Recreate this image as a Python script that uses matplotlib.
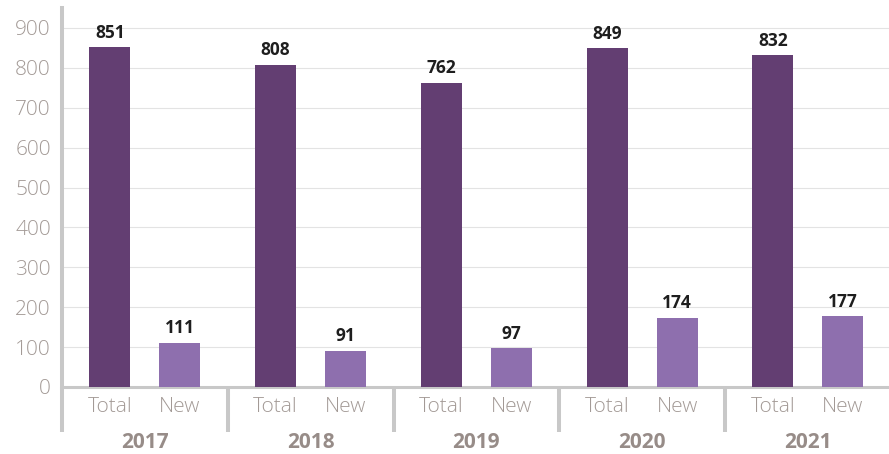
import numpy as np
import matplotlib.pyplot as plt
from matplotlib.transforms import blended_transform_factory

# dados
anos = ['2017', '2018', '2019', '2020', '2021']
total = [851, 808, 762, 849, 832]
novos = [111, 91, 97, 174, 177]
sub_rotulos = ['Total', 'New']

cor_total = '#633e72'
cor_novo = '#8e6fae'
cor_texto = '#a39a96'
cor_ano = '#978c88'
cor_eixo = '#c8c8c8'

plt.rcParams['font.family'] = ['Open Sans', 'DejaVu Sans']

fig = plt.figure(figsize=(8.89, 4.54), dpi=100)
ax = fig.add_axes([62 / 889, 67 / 454, 1 - 62 / 889, (446 - 67) / 454])

x = np.arange(len(anos))
desloc = 0.211
largura = 0.247

b1 = ax.bar(x - desloc, total, width=largura, color=cor_total, zorder=3)
b2 = ax.bar(x + desloc, novos, width=largura, color=cor_novo, zorder=3)

for barras in (b1, b2):
    for b in barras:
        ax.annotate(f'{int(b.get_height())}',
                    (b.get_x() + b.get_width() / 2, b.get_height()),
                    xytext=(0, 4), textcoords='offset points',
                    ha='center', va='bottom', fontsize=12.5,
                    fontweight='bold', color='#1e1e1e')

ax.set_ylim(0, 950)
ax.set_xlim(-0.5, (889 - 62) / 165.75 - 0.5)
ax.set_yticks(range(0, 901, 100))
ax.tick_params(axis='y', length=0, pad=8, labelsize=15, labelcolor=cor_texto)
for t in ax.get_yticklabels():
    t.set_fontweight('light')
ax.grid(axis='y', color='#e3e3e3', linewidth=0.8, zorder=0)

pos = np.concatenate([x - desloc, x + desloc])
lab = [sub_rotulos[0]] * len(x) + [sub_rotulos[1]] * len(x)
ax.set_xticks(pos)
ax.set_xticklabels(lab, fontweight='light')
ax.tick_params(axis='x', length=0, pad=7, labelsize=15, labelcolor=cor_texto)

for s in ['top', 'right']:
    ax.spines[s].set_visible(False)
ax.spines['left'].set_color(cor_eixo)
ax.spines['left'].set_linewidth(2.9)
ax.spines['bottom'].set_color(cor_eixo)
ax.spines['bottom'].set_linewidth(2.2)

# linhas separadoras e anos
trans = blended_transform_factory(ax.transData, ax.transAxes)
altura_px = 446 - 67
for i in range(len(anos)):
    ax.plot([i - 0.5, i - 0.5], [0, -45 / altura_px], transform=trans,
            color=cor_eixo, linewidth=2.9, clip_on=False, solid_capstyle='butt')
    ax.text(i, -56 / altura_px, anos[i], transform=trans, ha='center',
            va='center', fontsize=15, fontweight='bold', color=cor_ano)

fig.savefig('out.png', dpi=100)
